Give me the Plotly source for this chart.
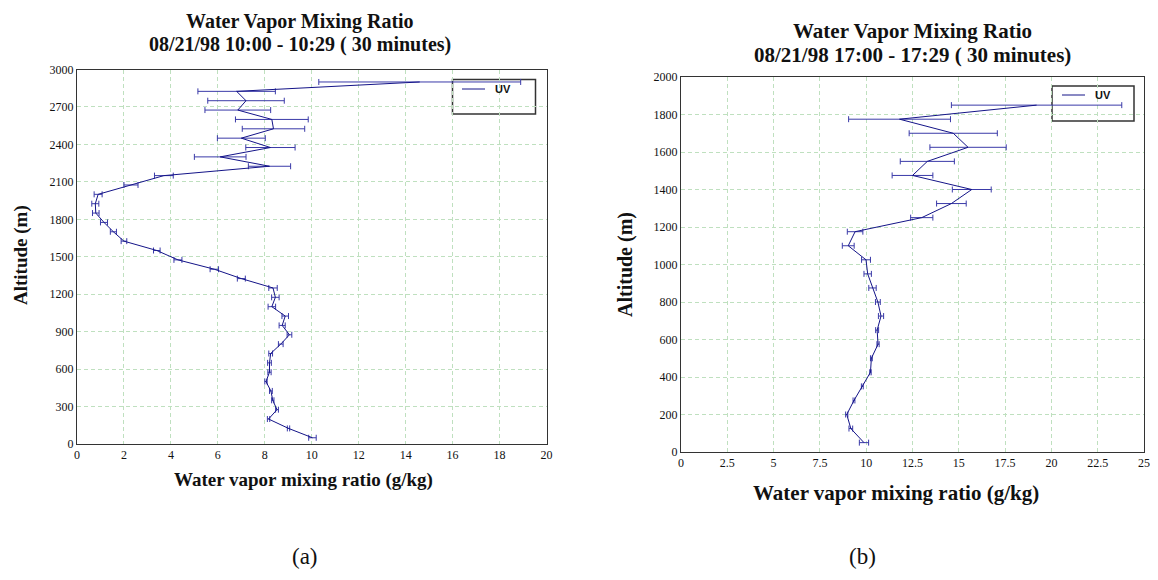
import plotly.graph_objects as go

# ---------------- data ----------------
alt_a = [2900, 2825, 2750, 2675, 2600, 2525, 2450, 2375, 2300, 2225, 2150, 2075,
         2000, 1925, 1850, 1775, 1700, 1625, 1550, 1475, 1400, 1325, 1250, 1175,
         1100, 1025, 950, 875, 800, 725, 650, 575, 500, 425, 350, 275, 200, 125, 50]
wv_a = [14.6, 6.8, 7.2, 6.85, 8.3, 8.37, 7.0, 8.24, 6.1, 8.2, 3.7, 2.3,
        0.9, 0.78, 0.8, 1.15, 1.55, 2.0, 3.4, 4.3, 5.85, 7.0, 8.35, 8.45,
        8.3, 8.87, 8.74, 9.05, 8.68, 8.25, 8.2, 8.2, 8.05, 8.26, 8.34, 8.52, 8.16, 9.01, 10.03]
err_a = [4.3, 1.65, 1.63, 1.4, 1.55, 1.33, 1.02, 1.05, 1.1, 0.9, 0.4, 0.3,
         0.17, 0.15, 0.14, 0.15, 0.13, 0.12, 0.14, 0.17, 0.18, 0.17, 0.18, 0.16,
         0.16, 0.14, 0.13, 0.1, 0.1, 0.08, 0.08, 0.07, 0.05, 0.06, 0.05, 0.06, 0.05, 0.05, 0.16]

alt_b = [1850, 1775, 1700, 1625, 1550, 1475, 1400, 1325, 1250, 1175, 1100, 1025,
         950, 875, 800, 725, 650, 575, 500, 425, 350, 275, 200, 125, 50]
wv_b = [19.2, 11.8, 14.7, 15.5, 13.3, 12.5, 15.7, 14.6, 13.0, 9.4, 9.03, 9.99,
        10.08, 10.34, 10.63, 10.8, 10.59, 10.64, 10.28, 10.23, 9.79, 9.34, 8.95, 9.17, 9.88]
err_b = [4.6, 2.75, 2.38, 2.06, 1.46, 1.1, 1.05, 0.8, 0.6, 0.42, 0.32, 0.24,
         0.2, 0.2, 0.13, 0.14, 0.08, 0.06, 0.05, 0.04, 0.05, 0.05, 0.06, 0.1, 0.25]

title_a = ["Water Vapor Mixing Ratio", "08/21/98 10:00 - 10:29 ( 30 minutes)"]
title_b = ["Water Vapor Mixing Ratio", "08/21/98 17:00 - 17:29 ( 30 minutes)"]
xlabel = "Water vapor mixing ratio (g/kg)"
ylabel = "Altitude (m)"
series_name = "UV"
captions = ["(a)", "(b)"]

# ---------------- layout helpers ----------------
# the page body adds an 8px margin on every side; the figure fills what is left of the window
OFF = 8
W, H = 1158 - 2 * OFF, 580 - 2 * OFF
def px(x):
    return (x - OFF) / W
def py(y):
    return 1 - (y - OFF) / H

LINE = "#141488"
ERR = "#3a3aa8"
SERIF = "Liberation Serif, Times New Roman, serif"

fig = go.Figure()
fig.add_trace(go.Scatter(x=wv_a, y=alt_a, mode="lines", name=series_name,
                         line=dict(color=LINE, width=1),
                         error_x=dict(type="data", array=err_a, color=ERR, thickness=1, width=3),
                         xaxis="x", yaxis="y", showlegend=False))
fig.add_trace(go.Scatter(x=wv_b, y=alt_b, mode="lines", name=series_name,
                         line=dict(color=LINE, width=1),
                         error_x=dict(type="data", array=err_b, color=ERR, thickness=1, width=3),
                         xaxis="x2", yaxis="y2", showlegend=False))

axis_common = dict(showgrid=True, gridcolor="#bfe0bf", griddash="4px,3px", gridwidth=1,
                   showline=True, mirror=True, linecolor="#333333", linewidth=1,
                   zeroline=False, ticks="", automargin=False, ticklabeloverflow="allow",
                   tickfont=dict(family=SERIF, size=12, color="#111"))

fig.update_layout(
    width=W, height=H, margin=dict(l=0, r=0, t=0, b=0, pad=0),
    paper_bgcolor="white", plot_bgcolor="white",
    xaxis=dict(domain=[px(77), px(546.5)], range=[0, 20], dtick=2, anchor="y", **axis_common),
    yaxis=dict(domain=[py(444), py(69.5)], range=[0, 3000], dtick=300, anchor="x", **axis_common),
    xaxis2=dict(domain=[px(681), px(1144)], range=[0, 25], dtick=2.5, anchor="y2", **axis_common),
    yaxis2=dict(domain=[py(452), py(77)], range=[0, 2000], dtick=200, anchor="x2", **axis_common),
)

ann = []
def txt(x, y, s, size, bold=True, family=SERIF, angle=0, color="#111"):
    ann.append(dict(x=px(x), y=py(y), xref="paper", yref="paper", text=("<b>%s</b>" % s) if bold else s,
                    showarrow=False, font=dict(family=family, size=size, color=color),
                    xanchor="center", yanchor="middle", textangle=angle))

# titles
txt(300, 22, title_a[0], 20)
txt(300, 45, title_a[1], 20)
txt(912, 31, title_b[0], 21)
txt(912, 55, title_b[1], 21)
# axis titles
txt(304, 480, xlabel, 19)
txt(896, 493, xlabel, 21)
txt(21, 255, ylabel, 19, angle=-90)
txt(625, 265, ylabel, 20, angle=-90)
# captions
txt(305, 556, captions[0], 23, bold=False)
txt(862, 556, captions[1], 23, bold=False)

# legend boxes (drawn as decoration)
shapes = []
def legend(x0, y0, x1, y1, lx0, lx1, ly, tx):
    shapes.append(dict(type="rect", xref="paper", yref="paper", x0=px(x0), x1=px(x1), y0=py(y1), y1=py(y0),
                       line=dict(color="#333333", width=1.5), fillcolor="rgba(0,0,0,0)", layer="below"))
    shapes.append(dict(type="line", xref="paper", yref="paper", x0=px(lx0), x1=px(lx1), y0=py(ly), y1=py(ly),
                       line=dict(color=LINE, width=1)))
    ann.append(dict(x=px(tx), y=py(ly), xref="paper", yref="paper", text="<b>%s</b>" % series_name,
                    showarrow=False, xanchor="left", yanchor="middle",
                    font=dict(family="Liberation Sans, Arial, sans-serif", size=11, color="#111")))

legend(452.5, 79.5, 535.5, 114, 462, 485, 89, 493)
legend(1052, 86, 1134, 121, 1062, 1085, 95, 1093)

fig.update_layout(annotations=ann, shapes=shapes)
fig.write_html("out.html")
